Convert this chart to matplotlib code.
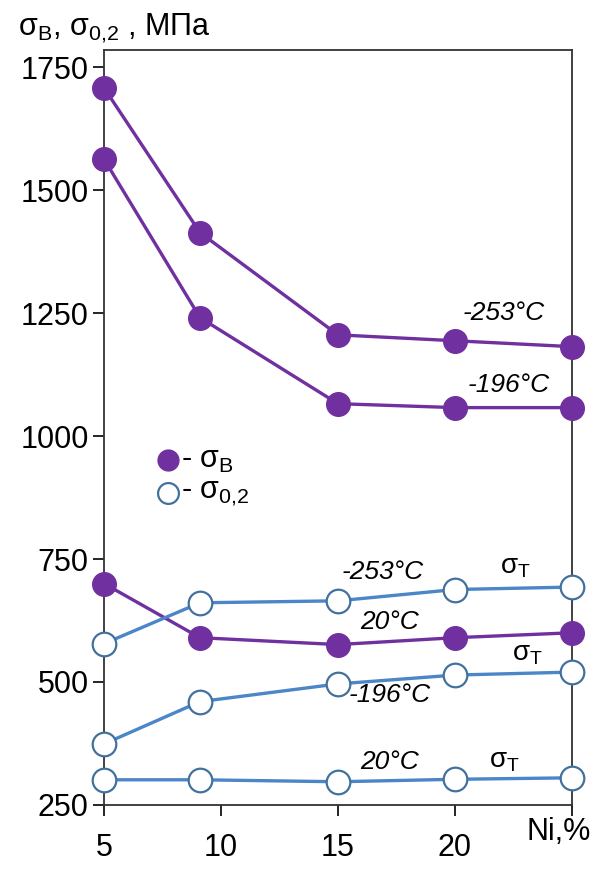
import numpy as np
import matplotlib
matplotlib.use('Agg')
import matplotlib.pyplot as plt

plt.rcParams['font.family'] = ['Liberation Sans', 'DejaVu Sans']
plt.rcParams['mathtext.fontset'] = 'custom'
plt.rcParams['mathtext.rm'] = 'Liberation Sans'
plt.rcParams['mathtext.it'] = 'Liberation Sans:italic'

# Ni content, %
ni = [5, 9.1, 15, 20, 25]

# ultimate strength sigma_B, MPa
sb_253 = [1708, 1414, 1206, 1194, 1182]
sb_196 = [1563, 1241, 1066, 1058, 1058]
sb_20 = [700, 590, 576, 590, 600]

# yield strength sigma_0.2, MPa
s02_253 = [578, 661, 665, 688, 693]
s02_196 = [374, 460, 496, 514, 520]
s02_20 = [301, 301, 297, 302, 305]

purple = '#7030A0'
blue_line = '#4A86C8'
blue_edge = '#41719C'

fig = plt.figure(figsize=(5.95, 8.72), dpi=100)
ax = fig.add_axes([0.175, 0.077, 0.786, 0.866])

for y in [sb_253, sb_196, sb_20]:
    ax.plot(ni, y, color=purple, lw=2.4, marker='o', ms=17,
            mfc=purple, mec=purple, zorder=3, clip_on=False)
for y in [s02_253, s02_196, s02_20]:
    ax.plot(ni, y, color=blue_line, lw=2.4, marker='o', ms=17,
            mfc='white', mec=blue_edge, mew=1.6, zorder=3, clip_on=False)

ax.set_xlim(5, 25)
ax.set_ylim(250, 1786)
ax.set_yticks([250, 500, 750, 1000, 1250, 1500, 1750])
ax.set_xticks([5, 10, 15, 20, 25])
ax.set_xticklabels(['5', '10', '15', '20', ''])
ax.tick_params(labelsize=22, length=8, width=1.2, pad=3)
ax.tick_params(axis='x', pad=12)
for s in ax.spines.values():
    s.set_linewidth(1.3)
    s.set_color('#333333')

sub02 = '$_{0{,}2}$'
fig.text(0.993, 0.046, 'Ni,%', fontsize=22, ha='right', va='center')
fig.text(0.03, 0.968, 'σ$_\\mathrm{B}$, σ' + sub02 + ' , МПа', fontsize=22,
         ha='left', va='center')

# curve labels
lab = dict(fontsize=19, style='italic', ha='center', va='center')
ax.text(22.1, 1251, '-253°C', **lab)
ax.text(22.3, 1103, '-196°C', **lab)
ax.text(16.9, 724, '-253°C', **lab)
ax.text(17.2, 622, '20°C', **lab)
ax.text(17.2, 474, '-196°C', **lab)
ax.text(17.2, 337, '20°C', **lab)
sig = dict(fontsize=20, ha='center', va='center')
ax.text(22.6, 734, 'σ$_\\mathrm{T}$', **sig)
ax.text(23.1, 557, 'σ$_\\mathrm{T}$', **sig)
ax.text(22.1, 339, 'σ$_\\mathrm{T}$', **sig)

# legend
ax.plot([7.74], [952], 'o', ms=15, color=purple, clip_on=False)
ax.plot([7.74], [885], 'o', ms=15, mfc='white', mec=blue_edge, mew=1.6)
ax.text(8.3, 952, '- σ$_\\mathrm{B}$', fontsize=22, va='center')
ax.text(8.3, 885, '- σ' + sub02, fontsize=22, va='center')

fig.savefig('out.png', dpi=100)
